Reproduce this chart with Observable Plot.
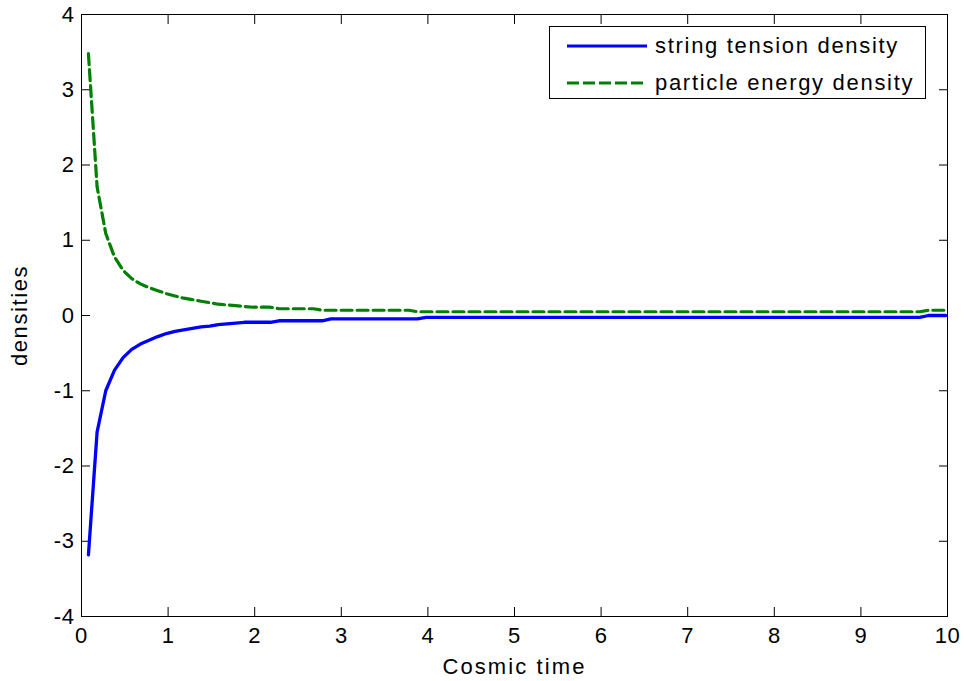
<!DOCTYPE html>
<html>
<head>
<meta charset="utf-8">
<script src="https://cdn.jsdelivr.net/npm/d3@7"></script>
<script src="https://cdn.jsdelivr.net/npm/@observablehq/plot@0.6"></script>
<style>
  html, body { margin: 0; padding: 0; background: white; }
  #wrap { position: relative; width: 964px; height: 681px; font-family: "Liberation Sans", Arial, sans-serif; }
  #wrap svg g[aria-label="x-axis label"] text { letter-spacing: 2.1px; }
  #wrap svg g[aria-label="y-axis label"] text { letter-spacing: 1.6px; }
  #wrap svg g[aria-label="x-axis tick label"] text,
  #wrap svg g[aria-label="y-axis tick label"] text { letter-spacing: 0.6px; }
  #legend {
    position: absolute; left: 549px; top: 26px; width: 377px; height: 73px;
    border: 1px solid black; background: white; box-sizing: border-box;
  }
  .lrow { position: absolute; left: 0; height: 38px; display: flex; align-items: center; }
  .lrow svg { position: absolute; left: 16px; }
  .lrow span { position: absolute; left: 105px; font-size: 22px; letter-spacing: 1.7px; white-space: nowrap; color: black; line-height: 1; }
</style>
</head>
<body>
<div id="wrap"></div>
<script>
// Data
const time = [0.08, 0.18, 0.28, 0.38, 0.48, 0.58, 0.68, 0.78, 0.88, 0.98,
              1.08, 1.18, 1.28, 1.38, 1.48, 1.58, 1.68, 1.78, 1.88, 1.98,
              2.08, 2.18, 2.28, 2.38, 2.48, 2.58, 2.68, 2.78, 2.88, 2.98,
              3.78, 3.88, 3.98, 9.68, 9.78, 9.98];
const stringTension = [-3.18, -1.55, -1.00, -0.73, -0.56, -0.45, -0.38, -0.33, -0.28, -0.24,
                       -0.21, -0.19, -0.17, -0.15, -0.14, -0.12, -0.11, -0.10, -0.09, -0.09,
                       -0.09, -0.09, -0.07, -0.07, -0.07, -0.07, -0.07, -0.07, -0.045, -0.045,
                       -0.045, -0.045, -0.025, -0.025, 0.0, 0.0];
const particleEnergy = [3.48, 1.71, 1.09, 0.78, 0.60, 0.49, 0.42, 0.37, 0.33, 0.29,
                        0.26, 0.23, 0.21, 0.19, 0.17, 0.15, 0.14, 0.13, 0.12, 0.11,
                        0.11, 0.11, 0.09, 0.09, 0.09, 0.09, 0.09, 0.07, 0.07, 0.07,
                        0.07, 0.05, 0.05, 0.05, 0.07, 0.07];
const seriesNames = ["string tension density", "particle energy density"];
const seriesColors = ["#0000ff", "#008000"];
const xTicks = [0, 1, 2, 3, 4, 5, 6, 7, 8, 9, 10];
const yTicks = [-4, -3, -2, -1, 0, 1, 2, 3, 4];
const xLabel = "Cosmic time";
const yLabel = "densities";

const blue = time.map((t, i) => ({t, v: stringTension[i]}));
const green = time.map((t, i) => ({t, v: particleEnergy[i]}));

const chart = Plot.plot({
  width: 964,
  height: 681,
  marginLeft: 81,
  marginRight: 17,
  marginTop: 14,
  marginBottom: 65,
  x: {domain: [0, 10]},
  y: {domain: [-4, 4]},
  style: {fontFamily: "'Liberation Sans', Arial, sans-serif", fontSize: "22px", color: "black", background: "white", overflow: "visible"},
  marks: [
    Plot.axisX(xTicks, {anchor: "bottom", tickSize: -9, tickPadding: 20, tickFormat: d => String(d),
      label: xLabel, labelAnchor: "center", labelOffset: 57, labelArrow: "none"}),
    Plot.axisX(xTicks, {anchor: "top", tickSize: -9, tickFormat: () => "", label: null}),
    Plot.axisY(yTicks, {anchor: "left", tickSize: -9, tickPadding: 16, tickFormat: d => String(d),
      label: yLabel, labelAnchor: "center", labelOffset: 70, labelArrow: "none"}),
    Plot.axisY(yTicks, {anchor: "right", tickSize: -9, tickFormat: () => "", label: null}),
    Plot.line(green, {x: "t", y: "v", stroke: seriesColors[1], strokeWidth: 3.2, strokeDasharray: "11,5", strokeLinejoin: "round"}),
    Plot.line(blue, {x: "t", y: "v", stroke: seriesColors[0], strokeWidth: 3.3, strokeLinejoin: "round"}),
    Plot.frame({stroke: "black", strokeWidth: 1})
  ]
});

const wrap = document.getElementById("wrap");
wrap.appendChild(chart);

// Legend (MATLAB style box in the upper right)
const legend = document.createElement("div");
legend.id = "legend";
seriesNames.forEach((name, i) => {
  const row = document.createElement("div");
  row.className = "lrow";
  row.style.top = (i === 0 ? 0 : 37) + "px";
  row.style.width = "100%";
  const dash = i === 1 ? 'stroke-dasharray="12,4"' : "";
  row.innerHTML = `<svg width="82" height="6"><line x1="1" y1="3" x2="81" y2="3" stroke="${seriesColors[i]}" stroke-width="3.2" ${dash}/></svg><span>${name}</span>`;
  legend.appendChild(row);
});
wrap.appendChild(legend);
</script>
</body>
</html>
